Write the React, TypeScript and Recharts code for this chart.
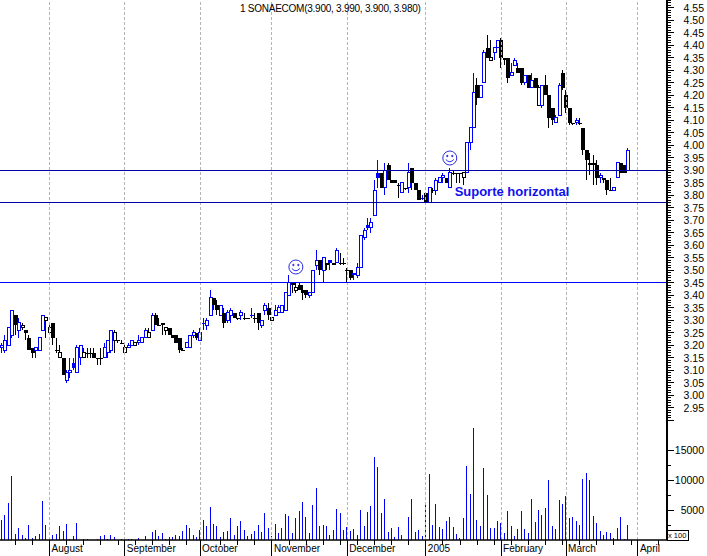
import { Bar, ComposedChart, ReferenceDot, ReferenceLine, XAxis, YAxis } from "recharts";

const FONT = '"Liberation Sans", Arial, sans-serif';
const BLUE = "#0000ff";
const NAVY = "#0000a8";

// [open, high, low, close] in cents, one row per trading day
const julyCandles = [
  [319, 321, 317, 320], [318, 324, 317, 322], [320, 327, 320, 327], [324, 334, 323, 334], [332, 332, 324, 328],
  [326, 331, 323, 329], [327, 329, 326, 328], [326, 326, 322, 325], [323, 324, 318, 318], [319, 319, 315, 317],
  [318, 319, 315, 319], [318, 323, 318, 323], [326, 332, 326, 332], [330, 331, 323, 331],
];
const augustCandles = [
  [325, 328, 324, 327], [329, 329, 320, 323], [318, 323, 317, 318], [315, 320, 315, 317], [315, 315, 308, 308],
  [306, 310, 305, 309], [309, 315, 307, 310], [313, 315, 310, 311], [309, 320, 309, 319], [315, 320, 312, 320],
  [315, 319, 315, 317], [317, 319, 315, 317], [317, 319, 315, 317], [317, 319, 315, 315], [315, 315, 312, 315],
  [315, 319, 312, 315], [315, 321, 315, 319], [317, 322, 315, 322], [318, 326, 317, 326], [322, 326, 317, 325],
  [322, 322, 321, 322], [321, 322, 321, 321],
];
const septemberCandles = [
  [317, 320, 317, 319], [319, 321, 319, 320], [320, 322, 320, 322], [320, 321, 320, 321], [321, 324, 320, 322],
  [321, 323, 321, 323], [323, 327, 323, 326], [323, 327, 323, 325], [326, 333, 326, 332], [332, 333, 328, 328],
  [328, 331, 328, 328], [329, 329, 324, 328], [326, 327, 324, 327], [327, 327, 324, 324], [324, 324, 323, 323],
  [324, 324, 321, 321], [323, 323, 317, 318], [318, 319, 318, 318], [319, 321, 319, 321], [319, 324, 319, 324],
  [324, 326, 323, 325], [325, 325, 322, 323],
];
const octoberCandles = [
  [322, 327, 322, 325], [329, 331, 326, 329], [328, 331, 326, 330], [332, 342, 332, 339], [339, 339, 334, 336],
  [336, 338, 332, 334], [332, 336, 332, 336], [333, 335, 327, 329], [330, 334, 329, 333], [332, 335, 329, 334],
  [333, 333, 331, 331], [331, 331, 330, 331], [332, 334, 330, 333], [331, 333, 330, 331], [331, 331, 331, 331],
  [332, 335, 331, 332], [331, 333, 329, 331], [333, 333, 326, 329], [328, 330, 327, 330], [334, 337, 332, 336],
  [335, 337, 330, 332],
];
const novemberCandles = [
  [330, 331, 330, 331], [332, 336, 332, 334], [333, 336, 333, 335], [333, 336, 333, 336], [334, 341, 334, 341],
  [340, 348, 340, 345], [345, 345, 341, 344], [342, 345, 341, 343], [344, 345, 342, 342], [342, 344, 338, 341],
  [342, 342, 339, 340], [340, 341, 339, 341], [341, 350, 341, 350], [352, 358, 350, 354], [354, 354, 348, 350],
  [350, 355, 345, 355], [353, 353, 350, 352], [354, 354, 350, 353], [353, 353, 352, 352], [353, 359, 353, 358],
  [353, 357, 352, 353], [353, 355, 352, 353],
];
const decemberCandles = [
  [350, 351, 345, 350], [350, 350, 346, 347], [349, 349, 346, 348], [348, 353, 347, 351], [351, 364, 351, 364],
  [363, 367, 362, 366], [368, 371, 366, 367], [367, 371, 365, 369], [372, 386, 372, 382], [389, 394, 383, 387],
  [389, 389, 383, 383], [383, 393, 380, 390], [392, 393, 386, 386], [386, 386, 385, 385], [386, 386, 385, 385],
  [384, 385, 379, 384], [381, 385, 381, 385], [383, 383, 382, 383], [383, 393, 381, 389], [391, 391, 382, 385],
  [385, 385, 382, 382], [382, 382, 378, 378], [379, 380, 378, 379],
];
const januaryCandles = [
  [381, 381, 376, 377], [377, 383, 377, 383], [382, 383, 381, 382], [382, 387, 380, 386], [385, 387, 385, 387],
  [387, 389, 385, 388], [387, 387, 385, 385], [383, 391, 383, 389], [389, 390, 388, 389], [389, 389, 385, 389],
  [389, 389, 385, 389], [387, 389, 384, 389], [389, 401, 389, 401], [401, 407, 398, 407], [407, 429, 407, 421],
  [424, 427, 416, 419], [419, 424, 419, 424], [425, 438, 425, 437], [439, 444, 435, 435], [434, 442, 434, 435],
  [437, 439, 434, 439], [439, 442, 439, 442],
];
const februaryCandles = [
  [442, 443, 431, 435], [435, 435, 432, 434], [435, 435, 425, 427], [428, 433, 428, 429], [432, 435, 432, 434],
  [431, 433, 429, 429], [431, 431, 424, 425], [425, 428, 424, 428], [428, 428, 423, 423], [423, 429, 423, 426],
  [427, 427, 423, 423], [416, 424, 416, 423], [416, 424, 415, 424], [424, 428, 420, 420], [420, 420, 407, 411],
  [415, 415, 408, 410], [409, 412, 409, 411], [412, 425, 412, 424], [429, 430, 422, 423],
];
const marchCandles = [
  [420, 422, 413, 415], [415, 415, 408, 409], [409, 409, 408, 409], [409, 411, 408, 410], [409, 411, 408, 409],
  [407, 407, 396, 398], [398, 398, 386, 394], [393, 397, 388, 392], [393, 396, 384, 392], [392, 394, 384, 387],
  [387, 389, 385, 388], [387, 387, 385, 386], [386, 386, 380, 382], [382, 387, 382, 382], [382, 383, 382, 383],
  [387, 393, 387, 393], [393, 393, 389, 389], [392, 392, 389, 389], [390, 399, 390, 398],
];

const volumes = [
  3330, 4170, 6170, 10670, 1000, 2000, 830, 330, 2500, 330, 670, 1000, 6500, 2500,
  100, 830, 1000, 2330, 1500, 2670, 170, 670, 2830, 0, 170, 170, 0, 0, 170, 670, 830, 170, 830, 500, 0, 170,
  0, 170, 170, 0, 330, 0, 670, 0, 1330, 1670, 670, 1170, 170, 500, 500, 830, 670, 1500, 2500, 2000, 830, 500,
  1670, 3330, 2330, 5500, 2670, 2330, 500, 1330, 1500, 3670, 830, 2330, 3170, 1670, 670, 1000, 1500, 2500, 1330, 4500, 2000,
  670, 2670, 1170, 2000, 4330, 4000, 1170, 3670, 4830, 6330, 3830, 1170, 5830, 8670, 2330, 2500, 2330, 830, 1670, 5170, 4500, 1670,
  2170, 1500, 1830, 830, 5000, 2330, 4670, 5670, 13830, 12170, 4500, 6830, 1330, 2000, 500, 2170, 830, 0, 3830, 6830, 1330, 1670, 670,
  6330, 11000, 2500, 6000, 2170, 1830, 3170, 3830, 2170, 1000, 330, 3670, 12330, 7670, 18670, 3330, 2330, 12000, 7500, 2000, 2000, 3170,
  2830, 1170, 4830, 2330, 670, 1830, 4830, 1830, 1170, 6830, 3000, 5000, 4170, 5330, 10000, 2330, 1830, 6670, 6000,
  7330, 3670, 3830, 3170, 2500, 10170, 11170, 10000, 4000, 2830, 1500, 830, 1330, 1170, 330, 2000, 3830, 170, 2500,
];

const allCandles = [
  ...julyCandles, ...augustCandles, ...septemberCandles, ...octoberCandles, ...novemberCandles,
  ...decemberCandles, ...januaryCandles, ...februaryCandles, ...marchCandles,
];

const SLOTS = 195;
const monthSlots = [14, 36, 58, 79, 101, 124, 146, 165, 186];
const monthLabels = ["August", "September", "October", "November", "December", "2005", "February", "March", "April"];
const weekSlots = [
  4, 9, 19, 24, 29, 34, 39, 44, 49, 54, 64, 69, 74, 84, 89, 94, 99, 104, 109, 114, 119,
  129, 134, 139, 144, 149, 154, 159, 164, 169, 174, 179, 184, 192,
];
const axisSlots = [...weekSlots, ...monthSlots].sort((a, b) => a - b);

const priceTicks = Array.from({ length: 169 }, (_, i) => (290 + i) / 100);
const volumeTicks = [2500, 5000, 7500, 10000, 12500, 15000, 20000];

const rows = Array.from({ length: SLOTS }, (_, slot) => {
  const c = allCandles[slot];
  if (!c) return { slot, range: null, volume: null };
  const prev = slot > 0 ? allCandles[slot - 1][3] : c[0];
  return {
    slot,
    open: c[0] / 100,
    close: c[3] / 100,
    range: [c[2] / 100, c[1] / 100],
    rising: c[3] > prev,
    volume: volumes[slot],
  };
});

function Candle(props: any) {
  const { x, y, width, height, payload } = props;
  if (!payload || !payload.range) return null;
  const [low, high] = payload.range;
  const perUnit = high > low ? height / (high - low) : 0;
  const col = Math.floor(x + width / 2);
  const color = payload.rising ? BLUE : "#000000";
  const top = y + (high - Math.max(payload.open, payload.close)) * perUnit;
  const bottom = y + (high - Math.min(payload.open, payload.close)) * perUnit;
  const hollow = payload.close > payload.open;
  return (
    <g shapeRendering="crispEdges">
      <line x1={col + 0.5} x2={col + 0.5} y1={y} y2={y + Math.max(height, 1)} stroke={color} />
      {hollow ? (
        <rect x={col - 0.5} y={top} width={3} height={bottom - top} fill="#ffffff" stroke={color} />
      ) : (
        <rect x={col - 1} y={top} width={4} height={Math.max(bottom - top, 1)} fill={color} />
      )}
    </g>
  );
}

function VolumeBar(props: any) {
  const { x, y, width, height } = props;
  if (!height) return null;
  return <rect x={Math.floor(x + width / 2)} y={y} width={1} height={height} fill={BLUE} shapeRendering="crispEdges" />;
}

function PriceTick(props: any) {
  const { x, y, payload } = props;
  const cents = Math.round(payload.value * 100);
  const major = cents % 5 === 0;
  return (
    <g>
      <line x1={x} x2={x + (major ? 7 : 4)} y1={y} y2={y} stroke="#000" shapeRendering="crispEdges" />
      {major && cents >= 295 && (
        <text x={x + 37} y={y + 4} textAnchor="end" fontSize={10.5} fontFamily={FONT} fill="#000">
          {payload.value.toFixed(2)}
        </text>
      )}
    </g>
  );
}

function VolumeTick(props: any) {
  const { x, y, payload } = props;
  const major = payload.value % 5000 === 0;
  return (
    <g>
      <line x1={x} x2={x + (major ? 7 : 4)} y1={y} y2={y} stroke="#000" shapeRendering="crispEdges" />
      {major && payload.value < 20000 && (
        <text x={x + 37} y={y + 4} textAnchor="end" fontSize={10.5} fontFamily={FONT} fill="#000">
          {payload.value}
        </text>
      )}
    </g>
  );
}

function DateTick(props: any) {
  const { x, y, payload } = props;
  const month = monthSlots.indexOf(payload.value);
  return (
    <g>
      <line x1={x} x2={x} y1={y} y2={y + (month >= 0 ? 16 : 5)} stroke="#000" shapeRendering="crispEdges" />
      {month >= 0 && (
        <text x={x + 2} y={y + 12} fontSize={10} fontFamily={FONT} fill="#000">
          {monthLabels[month]}
        </text>
      )}
    </g>
  );
}

function Smiley(props: any) {
  const { cx, cy } = props;
  return (
    <g fill="none" stroke="#2a2ae0">
      <circle cx={cx} cy={cy} r={7} />
      <circle cx={cx - 2.5} cy={cy - 2} r={0.7} fill="#2a2ae0" />
      <circle cx={cx + 2.5} cy={cy - 2} r={0.7} fill="#2a2ae0" />
      <path d={`M${cx - 4} ${cy + 1.5} Q${cx} ${cy + 6} ${cx + 4} ${cy + 1.5}`} />
    </g>
  );
}

function Note(props: any) {
  return (
    <text x={props.cx - 2} y={props.cy + 6} fontSize={13} fontWeight="bold" fontFamily={FONT} fill="#1010f0">
      Suporte horizontal
    </text>
  );
}

export default function App() {
  const monthLines = monthSlots.map((slot) => (
    <ReferenceLine key={slot} x={slot} stroke="#b4b4b4" strokeDasharray="3 2" shapeRendering="crispEdges" />
  ));

  return (
    <div style={{ position: "absolute", left: 0, top: 0, width: 707, height: 556, background: "#fff", overflow: "hidden" }}>
      <ComposedChart width={707} height={420} data={rows} margin={{ top: 0, right: 0, bottom: 0, left: 0 }} barCategoryGap={0}>
        <XAxis dataKey="slot" type="category" hide />
        <YAxis
          orientation="right"
          width={40}
          domain={[2.9, 4.58]}
          allowDataOverflow
          ticks={priceTicks}
          interval={0}
          tickSize={0}
          tickMargin={0}
          tickLine={false}
          tick={<PriceTick />}
          axisLine={{ stroke: "#000", strokeWidth: 2 }}
        />
        {monthLines}
        <Bar dataKey="range" shape={<Candle />} isAnimationActive={false} />
        <ReferenceLine y={3.9} stroke={NAVY} shapeRendering="crispEdges" />
        <ReferenceLine y={3.77} stroke={NAVY} shapeRendering="crispEdges" />
        <ReferenceLine y={3.45} stroke={BLUE} shapeRendering="crispEdges" />
        <ReferenceDot x={86} y={3.512} shape={<Smiley />} />
        <ReferenceDot x={131} y={3.948} shape={<Smiley />} />
        <ReferenceDot x={133} y={3.82} shape={<Note />} />
      </ComposedChart>

      <div style={{ position: "absolute", left: 0, top: 420 }}>
        <ComposedChart width={707} height={136} data={rows} margin={{ top: 0, right: 0, bottom: 0, left: 0 }} barCategoryGap={0}>
          <XAxis
            dataKey="slot"
            type="category"
            height={16}
            ticks={axisSlots}
            interval={0}
            tickSize={0}
            tickMargin={0}
            tickLine={false}
            tick={<DateTick />}
            axisLine={{ stroke: "#000", strokeWidth: 1.5 }}
          />
          <YAxis
            orientation="right"
            width={40}
            domain={[0, 20000]}
            ticks={volumeTicks}
            interval={0}
            tickSize={0}
            tickMargin={0}
            tickLine={false}
            tick={<VolumeTick />}
            axisLine={{ stroke: "#000", strokeWidth: 2 }}
          />
          {monthLines}
          <Bar dataKey="volume" barSize={1} shape={<VolumeBar />} isAnimationActive={false} />
        </ComposedChart>
      </div>

      <div style={{ position: "absolute", left: 240, top: 3, fontFamily: FONT, fontSize: 10, letterSpacing: -0.25, lineHeight: "12px", whiteSpace: "nowrap" }}>
        1 SONAECOM(3.900, 3.990, 3.900, 3.980)
      </div>
      <div
        style={{
          position: "absolute", left: 667, top: 530, width: 20, height: 9, border: "1px solid #000",
          fontFamily: FONT, fontSize: 7.5, lineHeight: "9px", whiteSpace: "nowrap", background: "#fff", overflow: "hidden",
        }}
      >
        x 100
      </div>
    </div>
  );
}
